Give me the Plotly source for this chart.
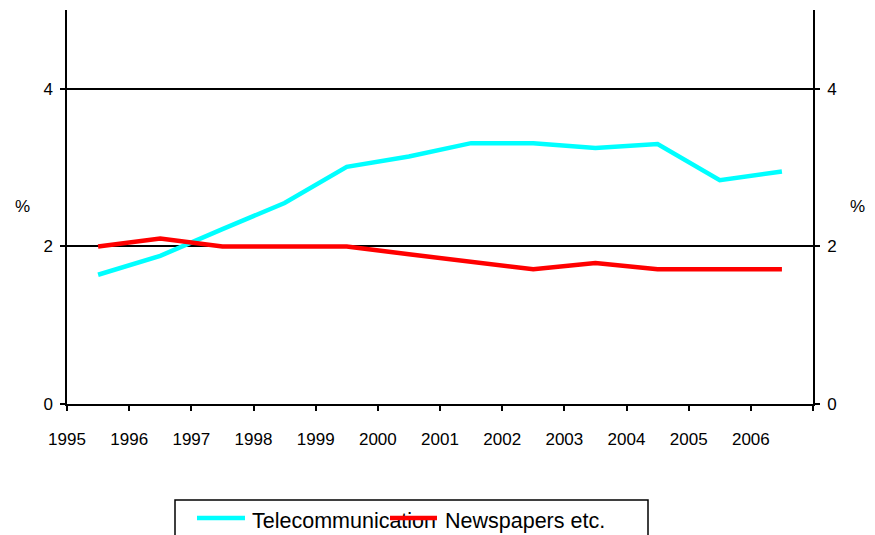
import plotly.graph_objects as go

# ===== data =====
years = [1995.5, 1996.5, 1997.5, 1998.5, 1999.5, 2000.5,
         2001.5, 2002.5, 2003.5, 2004.5, 2005.5, 2006.5]
telecom = [1.64, 1.88, 2.22, 2.55, 3.01, 3.14, 3.31, 3.31, 3.25, 3.30, 2.84, 2.95]
newspapers = [2.00, 2.10, 2.00, 2.00, 2.00, 1.90, 1.81, 1.71, 1.79, 1.71, 1.71, 1.71]

x_ticks = list(range(1995, 2008))
x_labels = [str(y) for y in range(1995, 2007)] + [""]
y_ticks = [0, 2, 4]

FONT = "Arial, Liberation Sans, sans-serif"
CYAN = "#00FFFF"
RED = "#FF0000"

fig = go.Figure()
fig.add_trace(go.Scatter(x=years, y=telecom, mode="lines", name="Telecommunication",
                         line=dict(color=CYAN, width=4.5)))
fig.add_trace(go.Scatter(x=years, y=newspapers, mode="lines", name="Newspapers etc.",
                         line=dict(color=RED, width=4.5), yaxis="y2"))

axis_common = dict(
    showline=True, linecolor="black", linewidth=1.5,
    ticks="outside", ticklen=5, tickcolor="black", tickwidth=1.5,
    zeroline=False, automargin=False,
    tickfont=dict(family=FONT, size=17, color="black"),
)

fig.update_layout(
    width=875, height=535,
    margin=dict(l=67, r=62, t=10, b=131),
    plot_bgcolor="white", paper_bgcolor="white",
    showlegend=False,
    xaxis=dict(range=[1995, 2007], tickvals=x_ticks, ticktext=x_labels,
               showgrid=False, ticklabelstandoff=14, **axis_common),
    yaxis=dict(range=[0, 5], tickvals=y_ticks, showgrid=True,
               gridcolor="black", gridwidth=1.5, ticklabelstandoff=4,
               **axis_common),
    yaxis2=dict(range=[0, 5], tickvals=y_ticks, showgrid=False, overlaying="y", side="right",
                ticklabelstandoff=4, **axis_common),
)

# "%" unit labels on both sides (horizontal, as in the original)
for xp in (-0.0603, 1.0603):
    fig.add_annotation(x=xp, y=0.501, xref="paper", yref="paper", text="%",
                       showarrow=False, xanchor="center", yanchor="middle",
                       font=dict(family=FONT, size=17, color="black"))

# legend box drawn by hand (the original has the second key overlapping the first label)
def px_x(px):
    return (px - 67) / 746.0

def px_y(py):
    return (404 - py) / 394.0

leg_font = dict(family=FONT, size=21.5, color="black")
fig.add_shape(type="rect", xref="paper", yref="paper",
              x0=px_x(175), x1=px_x(648), y0=px_y(500), y1=px_y(545),
              line=dict(color="black", width=1.5), fillcolor="white")
fig.add_shape(type="line", xref="paper", yref="paper",
              x0=px_x(197), x1=px_x(245), y0=px_y(518), y1=px_y(518),
              line=dict(color=CYAN, width=4.5))
fig.add_shape(type="rect", xref="paper", yref="paper",
              x0=px_x(249), x1=px_x(500), y0=px_y(508), y1=px_y(528),
              line=dict(width=0),
              label=dict(text="Telecommunication", textposition="middle left",
                         padding=0, font=leg_font))
fig.add_shape(type="line", xref="paper", yref="paper",
              x0=px_x(390), x1=px_x(437), y0=px_y(518), y1=px_y(518),
              line=dict(color=RED, width=4.5))
fig.add_shape(type="rect", xref="paper", yref="paper",
              x0=px_x(442), x1=px_x(640), y0=px_y(508), y1=px_y(528),
              line=dict(width=0),
              label=dict(text="Newspapers etc.", textposition="middle left",
                         padding=0, font=leg_font))

# page body margin would push the 875x535 figure off the window
fig.write_html("out.html", config={"displayModeBar": False},
               post_script="document.body.style.margin='0';")
